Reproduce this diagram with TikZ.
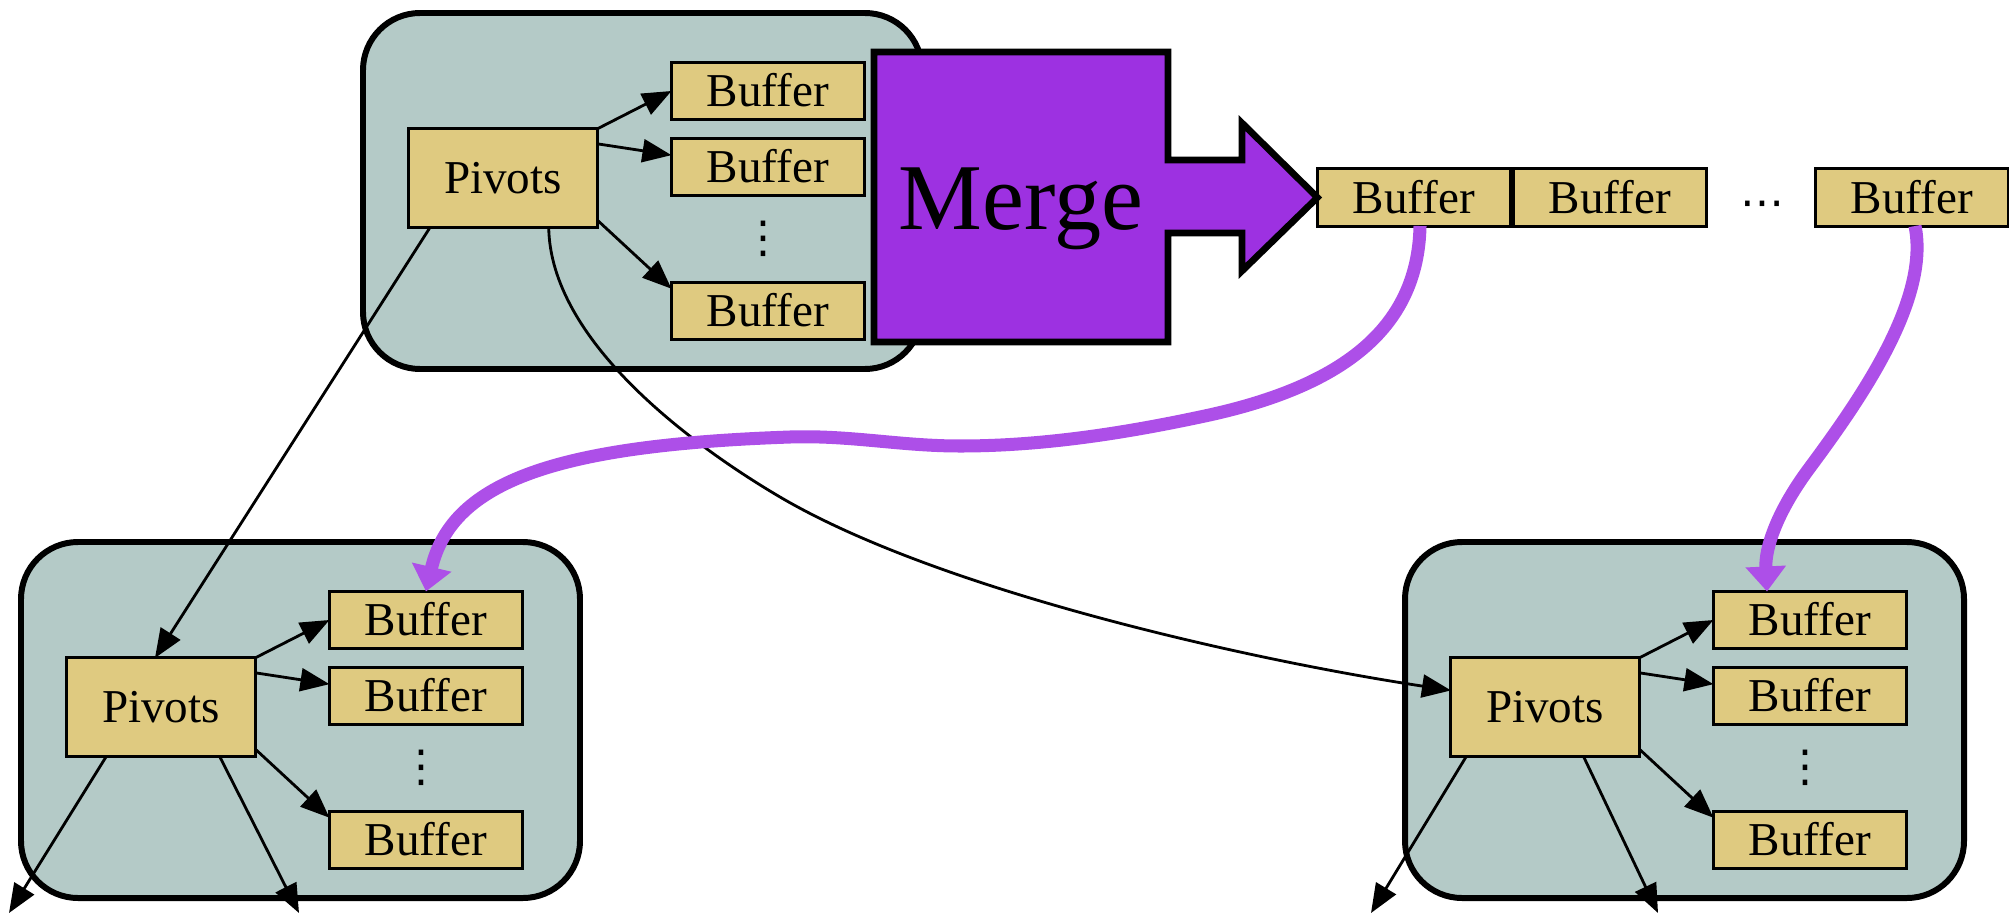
\documentclass[tikz,border=0pt]{standalone}
\usepackage{fontspec}
\setmainfont{Liberation Serif}
\newfontfamily\symfont{DejaVu Sans}
\usetikzlibrary{calc,arrows.meta}

\definecolor{clusterfill}{HTML}{B4CAC7}
\definecolor{boxfill}{HTML}{DFCA80}
\definecolor{mergefill}{HTML}{9D31E1}
\definecolor{flowline}{HTML}{AD4FE8}

\tikzset{
  cluster/.style={draw=black, fill=clusterfill, line width=1.7pt, rounded corners=0.57cm},
  box/.style={draw=black, fill=boxfill, line width=0.85pt, inner sep=0pt, outer sep=0pt,
    text height=8.9pt, text depth=0pt, font=\fontsize{13.4pt}{16pt}\selectfont},
  bufbox/.style={box, minimum width=1.93cm, minimum height=0.57cm},
  pivbox/.style={box, minimum width=1.88cm, minimum height=0.98cm},
  dotsnode/.style={inner sep=0pt, outer sep=0pt, font=\symfont\fontsize{12.5pt}{15pt}\selectfont},
  edge/.style={draw=black, line width=0.8pt, -{Triangle[length=0.29cm, width=0.23cm]}},
  flow/.style={draw=flowline, line width=3.7pt, -{Triangle[length=0.25cm, width=0.39cm]}},
  mergeshape/.style={draw=black, fill=mergefill, line width=1.9pt},
}

% One partition cluster: #1 = shift, #2 = name prefix
\newcommand\drawcluster[2]{%
  \begin{scope}[shift={#1}]
    \path[cluster] (21,542) rectangle (580,898);
    \node[pivbox] (#2p) at (161,707) {Pivots};
    \node[bufbox] (#2b1) at (426,620) {Buffer};
    \node[bufbox] (#2b2) at (426,696) {Buffer};
    \node[bufbox] (#2b3) at (426,840) {Buffer};
    \node[dotsnode] (#2dots) at (421,768) {⋮};
    \draw[edge] (#2p.north east) -- (#2b1.west);
    \draw[edge] (#2p.20) -- (#2b2.173);
    \draw[edge] (#2p.-24) -- (#2b3.167);
  \end{scope}}

\begin{document}
\begin{tikzpicture}[x=0.01cm, y=-0.01cm]
  \useasboundingbox (0,0) rectangle (2009,915);

  % three clusters
  \drawcluster{(342,-529)}{T}
  \drawcluster{(0,0)}{L}
  \drawcluster{(1384,0)}{R}

  % merged output buffers
  \node[bufbox] (rb1) at (1414,197.5) {Buffer};
  \node[bufbox] (rb2) at (1610,197.5) {Buffer};
  \node[dotsnode] (rdots) at (1762,209) {⋯};
  \node[bufbox] (rb3) at (1912,197.5) {Buffer};

  % pivot edges between clusters
  \draw[edge] (Tp.214) -- (Lp.97);
  \draw[edge] (Tp.313) .. controls (550,340) and (690,444) .. (780,497)
                        .. controls (940,591) and (1250,660) .. (Rp.170);

  % outgoing pivot edges at the bottom
  \coordinate (Lout1) at (9,913);
  \coordinate (Lout2) at (299,913);
  \coordinate (Rout1) at (1371,913);
  \coordinate (Rout2) at (1658,913);
  \draw[edge] (Lp.222) -- (Lout1);
  \draw[edge] (Lp.320) -- (Lout2);
  \draw[edge] (Rp.212) -- (Rout1);
  \draw[edge] (Rp.308) -- (Rout2);

  % merge arrow
  \draw[mergeshape] (874,52) -- (1168,52) -- (1168,160) -- (1242,160) -- (1242,123)
    -- (rb1.west) -- (1242,271) -- (1242,233) -- (1168,233) -- (1168,342) -- (874,342) -- cycle;
  \node[inner sep=0pt, anchor=base, font=\fontsize{26.8pt}{32pt}\selectfont] (mergetext) at (1021,229) {Merge};

  % buffers fed back into the next level
  \draw[flow] ($(rb1.south)+(6,0)$) .. controls (1418,330) and (1340,388) .. (1200,417)
    .. controls (1120,434) and (1040,446) .. (960,446)
    .. controls (900,446) and (850,435) .. (790,437)
    .. controls (560,445) and (452,480) .. (Lb1.north);
  \draw[flow] ($(rb3.south)+(3,0)$) .. controls (1930,300) and (1860,400) .. (1808,470)
    .. controls (1775,515) and (1765,550) .. ($(Rb1.north)+(-43,0)$);
\end{tikzpicture}
\end{document}
